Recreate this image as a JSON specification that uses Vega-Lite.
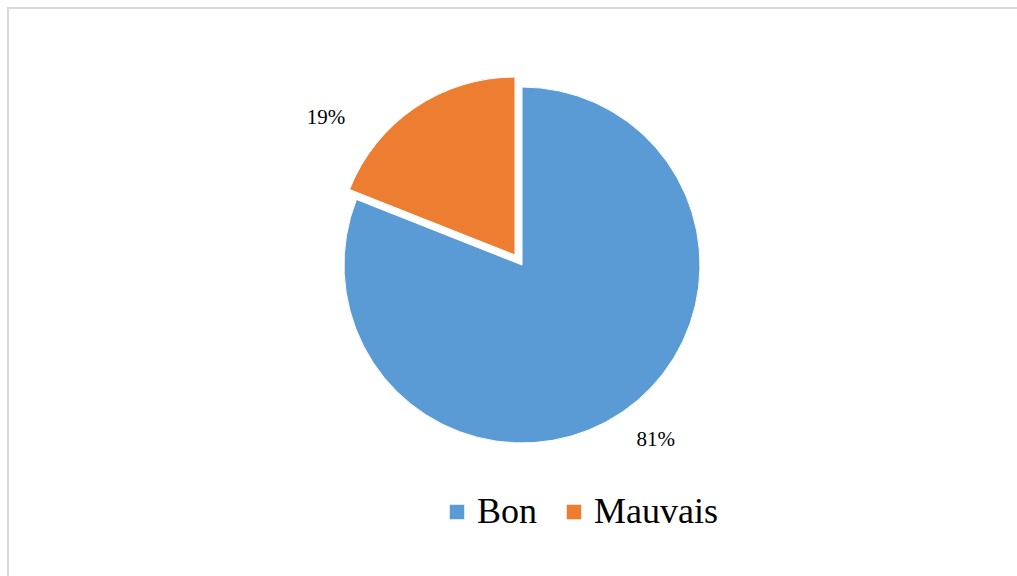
{
  "$schema": "https://vega.github.io/schema/vega-lite/v6.json",
  "width": 1028,
  "height": 600,
  "autosize": {"type": "none"},
  "padding": {"left": 8, "top": 8, "right": 0, "bottom": 0},
  "background": "white",
  "view": {"stroke": "#d9d9d9", "strokeWidth": 2, "fill": "white"},
  "config": {"font": "Liberation Serif", "legend": {"labelFont": "Liberation Serif"}, "style": {"guide-label": {"font": "Liberation Serif"}}},
  "data": {"values": [
    {"category": "Bon", "value": 81, "label": "81%"},
    {"category": "Mauvais", "value": 19, "label": "19%"}
  ]},
  "encoding": {
    "theta": {"field": "value", "type": "quantitative", "stack": true, "scale": {"domain": [0, 100]}},
    "order": {"field": "category", "sort": "ascending"}
  },
  "layer": [
    {
      "mark": {"type": "arc", "radius": 178, "yOffset": -43, "stroke": "white", "strokeWidth": 1},
      "encoding": {
        "color": {"field": "category", "type": "nominal",
          "scale": {"domain": ["Bon", "Mauvais"], "range": ["#5b9bd5", "#ed7d31"]},
          "legend": {"orient": "none", "legendX": 431, "legendY": 486, "direction": "horizontal", "title": null,
            "symbolType": "square", "symbolSize": 210, "symbolStrokeWidth": 0, "labelFont": "Liberation Serif",
            "labelFontSize": 36, "labelColor": "#000000", "labelOffset": 2, "columnPadding": 18, "labelLimit": 0, "padding": 0}},
        "opacity": {"condition": {"test": "datum.category === 'Mauvais'", "value": 0}, "value": 1}
      }
    },
    {
      "mark": {"type": "arc", "radius": 178, "xOffset": -7, "yOffset": -53, "stroke": "white", "strokeWidth": 1},
      "encoding": {
        "color": {"field": "category", "type": "nominal"},
        "opacity": {"condition": {"test": "datum.category === 'Bon'", "value": 0}, "value": 1}
      }
    },
    {
      "mark": {"type": "text", "radius": 220, "xOffset": 10, "yOffset": -50, "font": "Liberation Serif", "fontSize": 21, "color": "#000000", "align": "center", "baseline": "middle"},
      "encoding": {
        "text": {"field": "label"},
        "opacity": {"condition": {"test": "datum.category === 'Mauvais'", "value": 0}, "value": 1}
      }
    },
    {
      "mark": {"type": "text", "radius": 240, "xOffset": -61, "yOffset": 8, "font": "Liberation Serif", "fontSize": 21, "color": "#000000", "align": "center", "baseline": "middle"},
      "encoding": {
        "text": {"field": "label"},
        "opacity": {"condition": {"test": "datum.category === 'Bon'", "value": 0}, "value": 1}
      }
    }
  ]
}
